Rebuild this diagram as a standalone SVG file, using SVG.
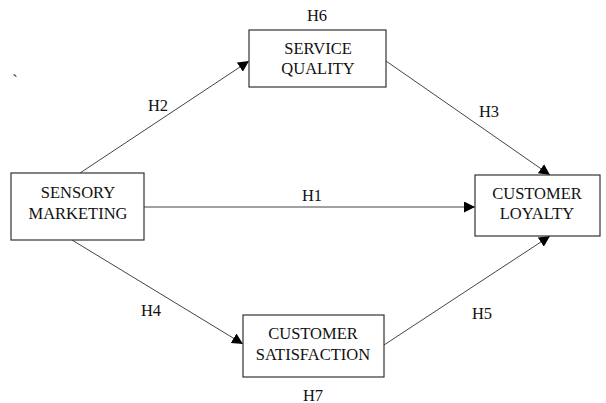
<svg xmlns="http://www.w3.org/2000/svg" width="606" height="403" viewBox="0 0 606 403">
<defs>
<marker id="arr" viewBox="0 0 10 10" refX="10" refY="5" markerWidth="11" markerHeight="11" markerUnits="userSpaceOnUse" orient="auto">
<path d="M0,0 L10,5 L0,10 z" fill="#000"/>
</marker>
</defs>
<style>
.box{fill:#fff;stroke:#333;stroke-width:1.2}
.t{font-family:"Liberation Serif","Times New Roman",serif;font-size:16.5px;fill:#111;text-anchor:middle;dominant-baseline:central}
.c{stroke:#444;stroke-width:1;fill:none;marker-end:url(#arr)}
</style>
<rect width="606" height="403" fill="#fff"/>
<g id="connectors">
<line class="c" x1="80" y1="173" x2="249" y2="61"/>
<line class="c" x1="386" y1="61" x2="550" y2="175"/>
<line class="c" x1="144" y1="207" x2="475" y2="207"/>
<line class="c" x1="72" y1="240" x2="243" y2="344"/>
<line class="c" x1="384" y1="345" x2="550" y2="236"/>
</g>
<g id="labels">
<text class="t" x="317" y="15">H6</text>
<text class="t" x="158" y="105">H2</text>
<text class="t" x="489" y="111">H3</text>
<text class="t" x="312" y="195">H1</text>
<text class="t" x="151" y="310">H4</text>
<text class="t" x="482" y="313">H5</text>
<text class="t" x="313" y="395">H7</text>
<text class="t" x="15" y="80">`</text>
</g>
<g id="service-quality">
<rect class="box" x="249" y="30" width="137" height="57"/>
<text class="t" x="318" y="48">SERVICE</text>
<text class="t" x="318" y="68">QUALITY</text>
</g>
<g id="sensory-marketing">
<rect class="box" x="11" y="173" width="133" height="67"/>
<text class="t" x="78" y="192">SENSORY</text>
<text class="t" x="78" y="213">MARKETING</text>
</g>
<g id="customer-loyalty">
<rect class="box" x="475" y="175" width="125" height="61"/>
<text class="t" x="537" y="193">CUSTOMER</text>
<text class="t" x="537" y="213">LOYALTY</text>
</g>
<g id="customer-satisfaction">
<rect class="box" x="243" y="315" width="141" height="62"/>
<text class="t" x="313" y="333">CUSTOMER</text>
<text class="t" x="313" y="354">SATISFACTION</text>
</g>
</svg>
